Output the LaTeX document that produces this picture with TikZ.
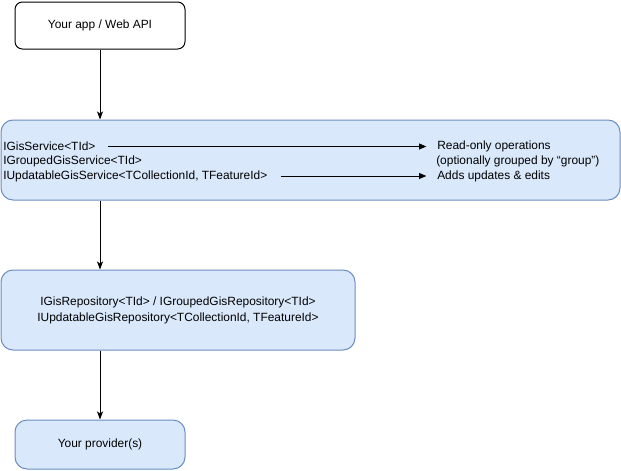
\documentclass[tikz,border=0pt]{standalone}
\usepackage{fontspec}
\setmainfont{Liberation Sans}
\usetikzlibrary{arrows.meta}
\definecolor{bluefill}{HTML}{DAE8FC}
\definecolor{bluedraw}{HTML}{6C8EBF}
\begin{document}
\begin{tikzpicture}[x=0.75pt,y=-0.75pt,
  every node/.style={font=\fontsize{8.95pt}{12pt}\selectfont},
  whitebox/.style={draw=black, fill=white, line width=0.75pt, rounded corners=5.5pt, inner sep=0pt, align=center},
  bluebox/.style={draw=bluedraw, fill=bluefill, line width=0.75pt, rounded corners=9pt, inner sep=0pt, align=center},
  txt/.style={inner sep=0pt, anchor=west},
  varr/.style={draw=black, line width=0.75pt, -{Stealth[length=6pt,width=4.5pt,inset=1.5pt]}},
  harr/.style={draw=black, line width=0.75pt, -{Triangle[length=5.5pt,width=4.5pt]}}
]
\useasboundingbox (0,0) rectangle (621,471);

\node[whitebox, minimum width=127.5pt, minimum height=35.25pt] (app) at (100,25.5) {Your app / Web API};
\node[bluebox, minimum width=464.25pt, minimum height=60pt] (svc) at (310.5,160) {};
\node[bluebox, minimum width=265.5pt, minimum height=60pt] (repo) at (178,310)
  {IGisRepository<TId> / IGroupedGisRepository<TId>\\IUpdatableGisRepository<TCollectionId, TFeatureId>};
\node[bluebox, minimum width=127.5pt, minimum height=36.75pt] (prov) at (100,444.5) {Your provider(s)};

\node[txt] (l1) at (3,146.5) {IGisService<TId>};
\node[txt] (l2) at (3,161) {IGroupedGisService<TId>};
\node[txt] (l3) at (3,176) {IUpdatableGisService<TCollectionId, TFeatureId>};
\node[txt] (r1) at (437,146.5) {Read-only operations};
\node[txt] (r2) at (436,161) {(optionally grouped by “group”)};
\node[txt] (r3) at (437,176) {Adds updates \& edits};

\draw[harr, shorten <=9pt, shorten >=8pt] (l1.east) -- (r1.west);
\draw[harr, shorten <=10pt, shorten >=8pt] (l3.east) -- (r3.west);

\draw[varr] (app.south) -- (app.south |- svc.north);
\draw[varr] (app.south |- svc.south) -- (app.south |- repo.north);
\draw[varr] (app.south |- repo.south) -- (prov.north);
\end{tikzpicture}
\end{document}
